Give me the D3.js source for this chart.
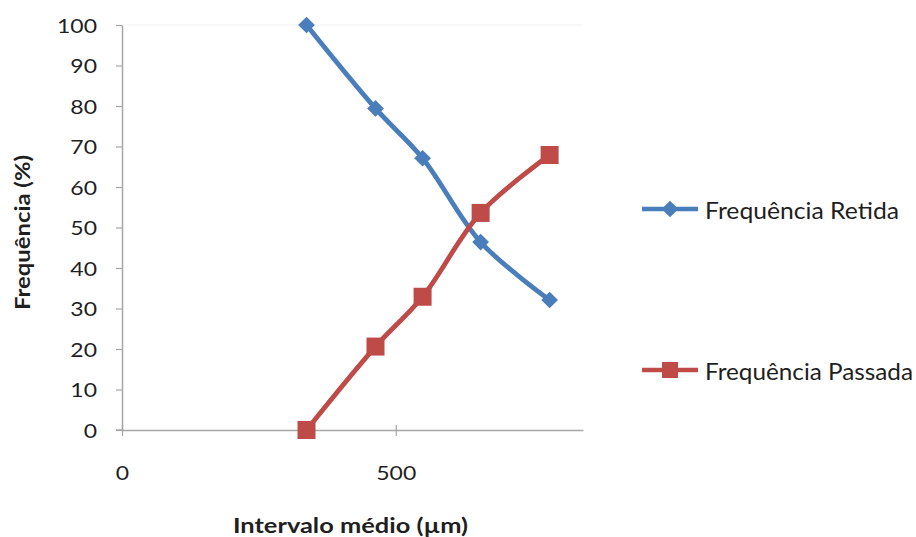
<!DOCTYPE html>
<html>
<head>
<meta charset="utf-8">
<script src="https://cdn.jsdelivr.net/npm/d3@7"></script>
<style>
  html, body { margin: 0; padding: 0; background: #fff; }
  svg text { font-family: Lato, "Open Sans", sans-serif; fill: #1f1f1f; }
</style>
</head>
<body>
<svg id="chart" width="916" height="537"></svg>
<script>
// Mean sieve interval (µm) and cumulative frequencies (%)
const intervals = [337, 463, 549, 655, 781];
const retida = [100, 79.4, 67.1, 46.4, 32.1];
const passada = [0, 20.6, 32.9, 53.6, 67.9];
const seriesNames = ["Frequência Retida", "Frequência Passada"];
const xTicks = [0, 500];
const yTicks = [0, 10, 20, 30, 40, 50, 60, 70, 80, 90, 100];

const blue = "#4a7ebb", red = "#be4b48";
const axisGrey = "#a6a6a6";

const svg = d3.select("#chart");
const plotLeft = 122, plotRight = 583, plotTop = 25, plotBottom = 430;

const x = d3.scaleLinear().domain([0, 842]).range([plotLeft, plotRight]);
const y = d3.scaleLinear().domain([0, 100]).range([plotBottom, plotTop]);

// faint plot area top edge
svg.append("line").attr("x1", plotLeft).attr("x2", plotRight).attr("y1", plotTop).attr("y2", plotTop)
  .attr("stroke", "#f2f2f2").attr("stroke-width", 1);

// Y axis
const yAxis = svg.append("g").attr("transform", `translate(${plotLeft},0)`)
  .call(d3.axisLeft(y).tickValues(yTicks).tickSize(6).tickPadding(0).tickSizeOuter(0));
yAxis.select(".domain").attr("stroke", axisGrey).attr("stroke-width", 1.5);
yAxis.selectAll(".tick line").attr("stroke", axisGrey).attr("stroke-width", 1.2);
yAxis.selectAll(".tick text")
  .attr("x", null)
  .attr("dy", null)
  .attr("y", 7)
  .attr("transform", "translate(-25,0) scale(1.15,1)")
  .attr("font-size", 20).attr("fill", "#1f1f1f")
  .style("font-family", "Lato, sans-serif");

// X axis (ticks cross the axis line)
const xAxis = svg.append("g").attr("transform", `translate(0,${plotBottom})`)
  .call(d3.axisBottom(x).tickValues(xTicks).tickSize(6).tickPadding(0).tickSizeOuter(0));
xAxis.select(".domain").attr("stroke", axisGrey).attr("stroke-width", 1.5);
xAxis.selectAll(".tick line").attr("stroke", axisGrey).attr("stroke-width", 1.2).attr("y1", -5);
xAxis.selectAll(".tick text")
  .attr("y", null).attr("dy", null)
  .attr("transform", "translate(0,50) scale(1.15,1)")
  .attr("font-size", 20).attr("fill", "#1f1f1f")
  .style("font-family", "Lato, sans-serif");
svg.append("line").attr("x1", plotLeft - 6).attr("x2", plotLeft).attr("y1", plotBottom).attr("y2", plotBottom)
  .attr("stroke", axisGrey).attr("stroke-width", 1.5);

// Axis titles
svg.append("text").attr("x", 233).attr("y", 533)
  .attr("font-size", 21).attr("font-weight", "bold")
  .attr("textLength", 235).attr("lengthAdjust", "spacingAndGlyphs")
  .text("Intervalo médio (µm)");
svg.append("text").attr("transform", "translate(30,310) rotate(-90)")
  .attr("font-size", 21).attr("font-weight", "bold")
  .attr("textLength", 155).attr("lengthAdjust", "spacingAndGlyphs")
  .text("Frequência (%)");

const line = d3.line().x(d => x(d[0])).y(d => y(d[1])).curve(d3.curveCatmullRom.alpha(0.5));
const dataR = intervals.map((v, i) => [v, retida[i]]);
const dataP = intervals.map((v, i) => [v, passada[i]]);

svg.append("path").datum(dataR).attr("d", line).attr("fill", "none")
  .attr("stroke", blue).attr("stroke-width", 4.8).attr("stroke-linejoin", "round");
svg.append("path").datum(dataP).attr("d", line).attr("fill", "none")
  .attr("stroke", red).attr("stroke-width", 4.8).attr("stroke-linejoin", "round");

const diamond = d3.symbol().type(d3.symbolSquare).size(140);
function drawDiamond(g, cx, cy) {
  g.append("path").attr("d", diamond()).attr("fill", blue)
    .attr("transform", `translate(${cx},${cy}) rotate(45)`);
}
function drawSquare(g, cx, cy, s) {
  g.append("rect").attr("x", cx - s / 2).attr("y", cy - s / 2).attr("width", s).attr("height", s)
    .attr("fill", red);
}

const markers = svg.append("g");
dataR.forEach(d => drawDiamond(markers, x(d[0]), y(d[1])));
dataP.forEach(d => drawSquare(markers, x(d[0]), y(d[1]), 18));

// Legend
const legend = svg.append("g");
const legendRows = [
  { name: seriesNames[0], color: blue, y: 209, kind: "diamond", w: 194 },
  { name: seriesNames[1], color: red, y: 370, kind: "square", w: 208 }
];
legendRows.forEach(r => {
  legend.append("line").attr("x1", 642).attr("x2", 698).attr("y1", r.y).attr("y2", r.y)
    .attr("stroke", r.color).attr("stroke-width", 4.5);
  if (r.kind === "diamond") drawDiamond(legend, 670, r.y);
  else drawSquare(legend, 670, r.y, 16);
  legend.append("text").attr("x", 705).attr("y", r.y + 10).attr("font-size", 23)
    .attr("textLength", r.w).attr("lengthAdjust", "spacingAndGlyphs")
    .text(r.name);
});
</script>
</body>
</html>
